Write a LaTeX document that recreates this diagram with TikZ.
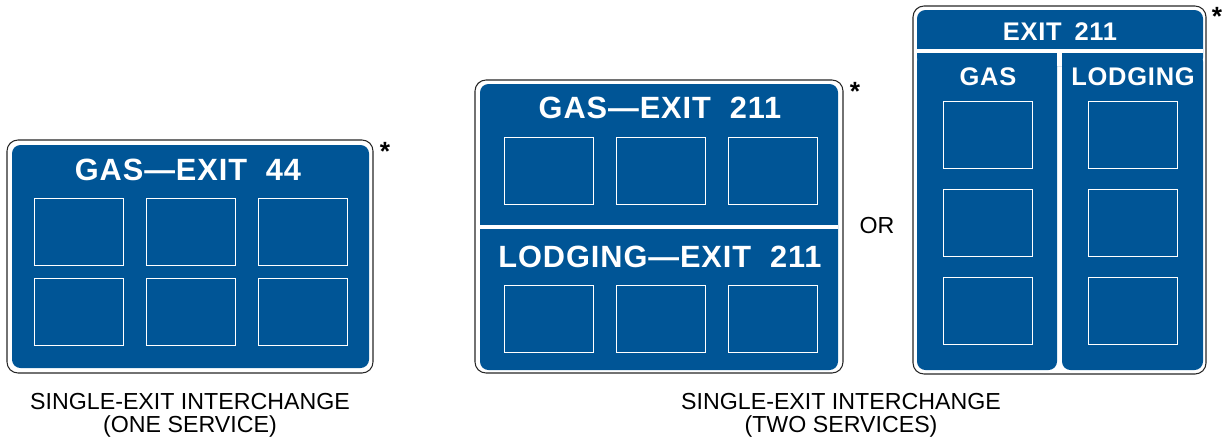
\documentclass[tikz,border=0pt]{standalone}
\usepackage{fontspec}
\setmainfont{Liberation Sans}
\newfontfamily\signfont[LetterSpace=3]{Liberation Sans}
\usepackage{tikz}
\definecolor{signblue}{RGB}{0,85,150}

\begin{document}
\begin{tikzpicture}[x=0.02cm,y=-0.02cm]
		\tikzstyle{outline}=[draw=black!85,line width=0.6pt,rounded corners=0.22cm]
		\tikzstyle{board}=[fill=signblue,rounded corners=0.17cm]
		\tikzstyle{panel}=[draw=white,line width=0.6pt,minimum width=1.78cm,minimum height=1.34cm,inner sep=0pt]
		\tikzstyle{legend}=[color=white,inner sep=0pt,font=\signfont\bfseries\fontsize{17.5}{20}\selectfont]
		\tikzstyle{smalllegend}=[legend,font=\signfont\bfseries\fontsize{14.5}{16}\selectfont]
		\tikzstyle{splitter}=[draw=white,line width=0.08cm]
		\tikzstyle{caption}=[align=center,inner sep=0pt,font=\fontsize{13.2}{13.2}\selectfont]
		\tikzstyle{star}=[anchor=north,inner sep=0pt,font=\bfseries\fontsize{15}{15}\selectfont]
		\useasboundingbox (0,0) rectangle (1226,444);
		% sign A: one service
		\draw [outline] (7,140) rectangle (373,373);
		\fill [board] (12,145) rectangle (369,368);
		\node [legend] at (188,170) (gasA) {GAS—EXIT\ \ 44};
		\node [panel] at (79,232) (a1) {};
		\node [panel] at (191,232) (a2) {};
		\node [panel] at (303,232) (a3) {};
		\node [panel] at (79,312) (a4) {};
		\node [panel] at (191,312) (a5) {};
		\node [panel] at (303,312) (a6) {};
		\node [star] at (385,142) (starA) {*};
		\node [caption] at (190,415) (capA) {SINGLE-EXIT INTERCHANGE\\(ONE SERVICE)};
		% sign B: two services stacked
		\draw [outline] (475,80) rectangle (843,373);
		\fill [board] (480,84) rectangle (838,370);
		\draw [splitter] (480,227) -- (838,227);
		\node [legend] at (660,108) (gasB) {GAS—EXIT\ \ 211};
		\node [panel] at (549,171) (b1) {};
		\node [panel] at (661,171) (b2) {};
		\node [panel] at (773,171) (b3) {};
		\node [legend] at (660,257) (lodgingB) {LODGING—EXIT\ \ 211};
		\node [panel] at (549,319) (b4) {};
		\node [panel] at (661,319) (b5) {};
		\node [panel] at (773,319) (b6) {};
		\node [star] at (855,82) (starB) {*};
		\node [caption] at (877,226) (or) {OR};
		\node [caption] at (841,415) (capB) {SINGLE-EXIT INTERCHANGE\\(TWO SERVICES)};
		% sign C: two services side by side
		\draw [outline] (913,6) rectangle (1206,374);
		\fill [board] (917,53) rectangle (1057,370);
		\fill [board] (1062,53) rectangle (1203,370);
		\fill [board] (917,10) rectangle (1203,66);
		\draw [splitter] (917,51) -- (1203,51);
		\draw [splitter,line width=0.1cm] (1059.5,51) -- (1059.5,66);
		\node [smalllegend] at (1060,32) (exitC) {EXIT\enspace 211};
		\node [smalllegend] at (988,77) (gasC) {GAS};
		\node [smalllegend] at (1133,77) (lodgingC) {LODGING};
		\node [panel] at (988,135) (c1) {};
		\node [panel] at (988,223) (c2) {};
		\node [panel] at (988,311) (c3) {};
		\node [panel] at (1133,135) (c4) {};
		\node [panel] at (1133,223) (c5) {};
		\node [panel] at (1133,311) (c6) {};
		\node [star] at (1217,7) (starC) {*};
	\end{tikzpicture}
\end{document}
